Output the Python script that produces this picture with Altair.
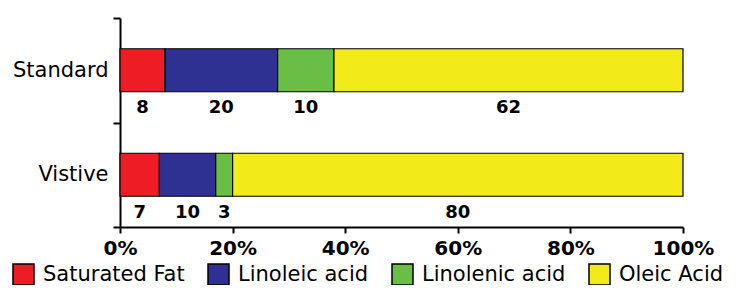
import altair as alt
import pandas as pd

categories = ["Standard", "Vistive"]
components = ["Saturated Fat", "Linoleic acid", "Linolenic acid", "Oleic Acid"]
standard_vals = [8, 20, 10, 62]
vistive_vals = [7, 10, 3, 80]
colors = ["#ee1c25", "#2e3192", "#6bbe45", "#f2ea19"]

rows = []
for cat, vals in zip(categories, [standard_vals, vistive_vals]):
    start = 0
    for comp, v in zip(components, vals):
        rows.append({"cat": cat, "comp": comp, "value": v,
                     "start": start / 100, "end": (start + v) / 100,
                     "mid": (start + v / 2) / 100, "order": components.index(comp)})
        start += v
df = pd.DataFrame(rows)

FONT = "DejaVu Sans"

x = alt.X("start:Q", scale=alt.Scale(domain=[0, 1], nice=False),
          axis=alt.Axis(format="%", values=[0, 0.2, 0.4, 0.6, 0.8, 1.0], title=None,
                        grid=False, domainColor="black", domainWidth=2, tickColor="black",
                        tickWidth=2, tickSize=6, labelFont=FONT, labelFontSize=20,
                        labelFontWeight="bold", labelColor="black", labelPadding=5,
                        labelFlush=False))
y = alt.Y("cat:N", sort=categories,
          scale=alt.Scale(domain=categories, paddingInner=0, paddingOuter=0),
          axis=alt.Axis(title=None, tickBand="extent", domainColor="black", domainWidth=2,
                        tickColor="black", tickWidth=2, tickSize=7, labelFont=FONT,
                        labelFontSize=21, labelColor="black", labelPadding=5))

bars = alt.Chart(df).mark_bar(size=43, stroke="black", strokeWidth=1.2).encode(
    x=x,
    x2="end:Q",
    y=y,
    color=alt.Color("comp:N", sort=components,
                    scale=alt.Scale(domain=components, range=colors),
                    legend=alt.Legend(title=None, orient="none", direction="horizontal",
                                      legendX=-108, legendY=245, symbolType="square",
                                      symbolSize=441, symbolStrokeColor="black",
                                      symbolStrokeWidth=1.5, symbolOpacity=1,
                                      labelFont=FONT, labelFontSize=21, labelColor="black",
                                      labelOffset=8, columnPadding=20, labelLimit=300)),
)

labels = alt.Chart(df).mark_text(font=FONT, fontSize=18, fontWeight="bold", color="black",
                                 baseline="alphabetic", dy=43).encode(
    x=alt.X("mid:Q"),
    y=alt.Y("cat:N", sort=categories),
    text=alt.Text("value:Q"),
)

chart = alt.layer(bars, labels).properties(
    width=563, height=209,
    autosize=alt.AutoSizeParams(type="none"),
    padding={"left": 112, "top": 10, "right": 45, "bottom": 58},
).configure_view(stroke=None)

chart.save("out.html", embed_options={"renderer": "svg", "actions": False})
